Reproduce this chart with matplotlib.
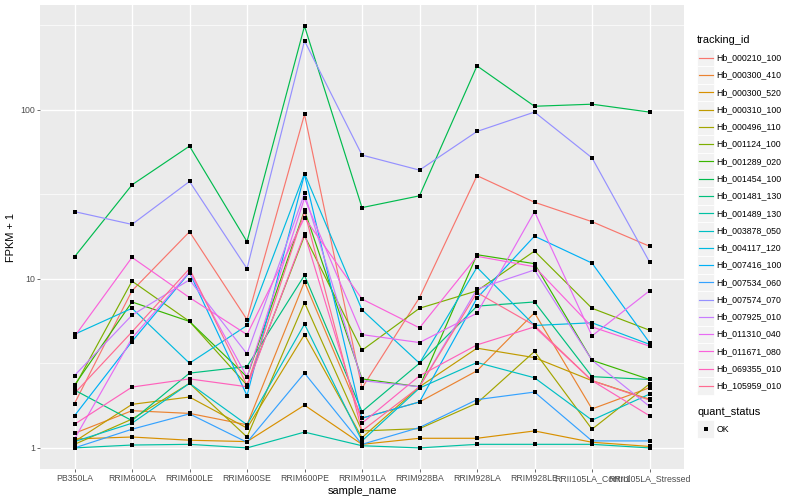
import matplotlib
matplotlib.use('Agg')
from matplotlib import pyplot as plt
from matplotlib.patches import Rectangle
from matplotlib.lines import Line2D


# sample order on the x axis
samples = ['PB350LA', 'RRIM600LA', 'RRIM600LE', 'RRIM600SE', 'RRIM600PE',
           'RRIM901LA', 'RRIM928BA', 'RRIM928LA', 'RRIM928LE',
           'RRII105LA_Control', 'RRII105LA_Stressed']

tracking_ids = ['Hb_000210_100', 'Hb_000300_410', 'Hb_000300_520', 'Hb_000310_100',
                'Hb_000496_110', 'Hb_001124_100', 'Hb_001289_020', 'Hb_001454_100',
                'Hb_001481_130', 'Hb_001489_130', 'Hb_003878_050', 'Hb_004117_120',
                'Hb_007416_100', 'Hb_007534_060', 'Hb_007574_070', 'Hb_007925_010',
                'Hb_011310_040', 'Hb_011671_080', 'Hb_069355_010', 'Hb_105959_010']

# FPKM + 1 per gene, one value per sample
hb_000210_100 = [1.83, 8.5, 19, 5.74, 94, 2.26, 7.75, 40.8, 28.4, 21.8, 15.6]
hb_000300_410 = [1.22, 1.66, 1.6, 1.37, 9.6, 1.5, 1.87, 2.86, 6.3, 1.7, 2.27]
hb_000300_520 = [1.13, 1.16, 1.11, 1.09, 1.79, 1.05, 1.14, 1.14, 1.26, 1.08, 1.02]
hb_000310_100 = [1.09, 1.81, 2.0, 1.31, 4.68, 1.15, 2.3, 3.89, 3.42, 2.5, 1.94]
hb_000496_110 = [1.05, 1.48, 2.41, 1.16, 7.24, 1.26, 1.3, 1.84, 3.72, 1.29, 2.39]
hb_001124_100 = [2.3, 9.7, 5.6, 2.35, 18, 3.78, 6.7, 8.5, 14.6, 6.7, 4.97]
hb_001289_020 = [2.35, 7.3, 5.6, 2.63, 25.4, 2.56, 2.3, 13.9, 12.3, 3.3, 2.54]
hb_001454_100 = [13.5, 36, 61, 16.6, 313, 26.4, 31, 182, 105, 108, 97]
hb_001481_130 = [2.2, 1.45, 2.77, 3.03, 10.5, 1.64, 3.17, 6.9, 7.3, 2.64, 2.54]
hb_001489_130 = [1.0, 1.04, 1.05, 1.0, 1.24, 1.03, 1.0, 1.05, 1.05, 1.05, 1.0]
hb_003878_050 = [1.09, 1.4, 2.41, 1.37, 5.4, 1.1, 2.26, 3.2, 2.6, 1.46, 2.08]
hb_004117_120 = [4.7, 6.7, 3.17, 5.3, 42, 6.56, 3.17, 11.7, 5.3, 5.5, 4.1]
hb_007416_100 = [1.55, 4.26, 10.9, 2.04, 41.5, 1.5, 1.87, 7.7, 17.9, 12.4, 4.2]
hb_007534_060 = [1.0, 1.29, 1.59, 1.08, 2.77, 1.05, 1.32, 1.93, 2.14, 1.1, 1.1]
hb_007574_070 = [25, 21, 37.7, 11.5, 256, 54, 44, 74.5, 97, 52, 12.6]
hb_007925_010 = [2.68, 6.1, 9.87, 3.6, 32, 2.5, 2.3, 8.7, 11.3, 3.3, 1.76]
hb_011310_040 = [1.13, 4.46, 11, 2.63, 30, 4.68, 4.2, 6.27, 25, 4.6, 8.5]
hb_011671_080 = [4.56, 13.4, 7.75, 4.68, 23, 7.6, 5.13, 13.6, 11.8, 5.2, 4.0]
hb_069355_010 = [1.38, 2.29, 2.56, 2.3, 18.5, 1.4, 2.67, 4.07, 5.2, 2.5, 1.55]
hb_105959_010 = [2.1, 4.86, 11.5, 2.35, 25, 1.26, 2.3, 8.3, 5.3, 2.5, 1.92]

series = [hb_000210_100, hb_000300_410, hb_000300_520, hb_000310_100, hb_000496_110,
          hb_001124_100, hb_001289_020, hb_001454_100, hb_001481_130, hb_001489_130,
          hb_003878_050, hb_004117_120, hb_007416_100, hb_007534_060, hb_007574_070,
          hb_007925_010, hb_011310_040, hb_011671_080, hb_069355_010, hb_105959_010]

# ggplot2 default hue palette, 20 levels
colors = ['#F8766D', '#EA8331', '#D89000', '#C09B00', '#A3A500', '#7CAE00', '#39B600',
          '#00BB4E', '#00BF7D', '#00C1A3', '#00BFC4', '#00BAE0', '#00B0F6', '#35A2FF',
          '#9590FF', '#C77CFF', '#E76BF3', '#FA62DB', '#FF62BC', '#FF6C91']

plt.rcParams['font.family'] = ['Liberation Sans', 'DejaVu Sans']

W, H = 800, 500
fig = plt.figure(figsize=(8, 5), dpi=100)
ax = fig.add_axes([40 / W, 31 / H, 644 / W, 464 / H])
ax.set_facecolor('#EBEBEB')
for s in ax.spines.values():
    s.set_visible(False)

x = list(range(1, len(samples) + 1))
for vals, col in zip(series, colors):
    ax.plot(x, vals, color=col, lw=0.85, zorder=3)
for vals in series:
    ax.plot(x, vals, linestyle='none', marker='s', markersize=3.0, mew=0,
            color='black', zorder=4)

ax.set_yscale('log')
ax.set_ylim(10 ** -0.1248, 10 ** 2.6203)
ax.set_xlim(0.4, len(samples) + 0.6)

ax.set_yticks([1, 10, 100])
ax.set_yticklabels(['1', '10', '100'])
ax.set_yticks([10 ** 0.5, 10 ** 1.5, 10 ** 2.5], minor=True)
ax.set_yticklabels([], minor=True)
ax.set_xticks(x)
ax.set_xticklabels(samples)

ax.grid(which='major', color='white', lw=1.0, zorder=0)
ax.grid(which='minor', axis='y', color='white', lw=0.5, zorder=0)
ax.set_axisbelow(True)
ax.tick_params(which='major', length=2.0, width=0.5, color='#333333',
               labelsize=6.34, labelcolor='#4D4D4D', pad=1.6)
ax.tick_params(which='minor', length=0)

ax.set_xlabel('sample_name', fontsize=7.92, labelpad=2.5)
ax.set_ylabel('FPKM + 1', fontsize=7.92, labelpad=3)


# legend drawn by hand in pixel coordinates
def fx(px):
    return px / W


def fy(py):
    return 1 - py / H


key_w = 17.28
fig.text(fx(697), fy(40), 'tracking_id', fontsize=7.92, va='center', ha='left')
for i, (tid, col) in enumerate(zip(tracking_ids, colors)):
    cy = 57.7 + key_w * i
    fig.patches.append(Rectangle((fx(697), fy(cy + key_w / 2)), key_w / W, key_w / H,
                                 facecolor='#F2F2F2', edgecolor='white', lw=0.6,
                                 transform=fig.transFigure, figure=fig))
    fig.lines.append(Line2D([fx(698.5), fx(712.8)], [fy(cy), fy(cy)], color=col, lw=0.85,
                            transform=fig.transFigure, figure=fig))
    fig.text(fx(716.5), fy(cy), tid, fontsize=6.34, va='center', ha='left')

fig.text(fx(697), fy(412), 'quant_status', fontsize=7.92, va='center', ha='left')
cy = 429
fig.patches.append(Rectangle((fx(697), fy(cy + key_w / 2)), key_w / W, key_w / H,
                             facecolor='#F2F2F2', edgecolor='white', lw=0.6,
                             transform=fig.transFigure, figure=fig))
fig.lines.append(Line2D([fx(697 + key_w / 2)], [fy(cy)], marker='s', markersize=3.0, mew=0,
                        color='black', linestyle='none',
                        transform=fig.transFigure, figure=fig))
fig.text(fx(716.5), fy(cy), 'OK', fontsize=6.34, va='center', ha='left')

fig.savefig('out.png', dpi=100, facecolor='white')
